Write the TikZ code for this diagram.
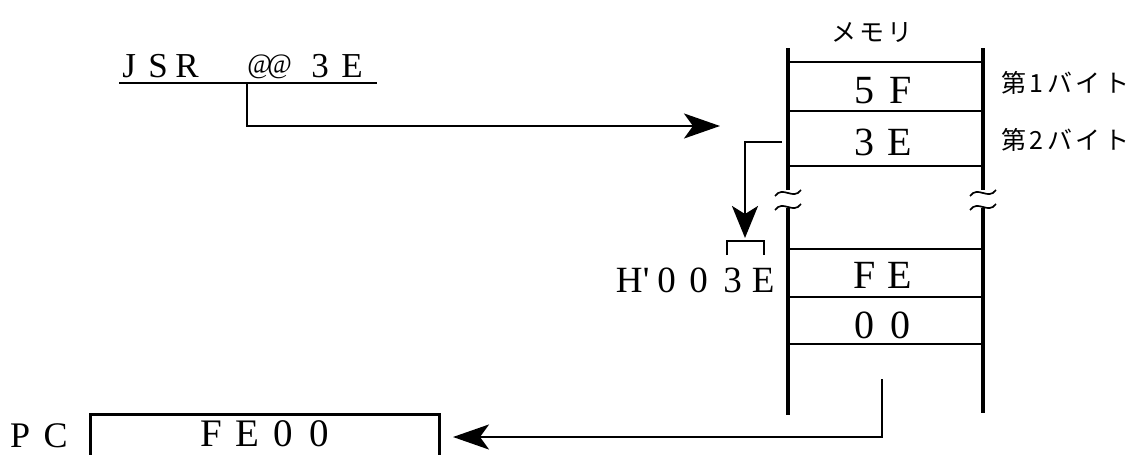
\documentclass[tikz,border=0pt]{standalone}
\usepackage{fontspec}
\setmainfont{Liberation Serif}
\newfontfamily\jp{Noto Sans CJK JP}
\usetikzlibrary{arrows.meta}
% fixed-width cell holding one character, centred
\newcommand\cell[2]{\makebox[#1pt]{#2}}
% compact at-sign used in the operand
\newcommand\atsign{\raisebox{3pt}{\scalebox{0.76}[0.8]{@}}}
% small break mark drawn across a wall of the memory column
\newcommand\wavemark[2]{\draw[brk] (#1-13,#2+3) .. controls (#1-5,#2-8) and (#1+5,#2+8) .. (#1+13,#2-3);}
\tikzset{
  lbl/.style={inner sep=0pt, anchor=base west, font=\fontsize{37}{37}\selectfont},
  jlbl/.style={inner sep=0pt, font=\jp\fontsize{25}{25}\selectfont},
  wall/.style={line width=3.2pt},
  rule/.style={line width=2.6pt},
  link/.style={line width=2.6pt},
  tip/.style={-{Stealth[length=36pt,width=25pt,inset=9pt]}},
  tipdown/.style={-{Stealth[length=32pt,width=26pt,inset=8pt]}},
  brk/.style={line width=1.7pt},
}
\begin{document}
\begin{tikzpicture}[x=1pt,y=-1pt]
\useasboundingbox (0,0) rectangle (1136,455);
\clip (0,0) rectangle (1136,455);
\fill[white] (0,0) rectangle (1136,455);

% instruction
\node[lbl, font=\fontsize{35}{35}\selectfont] (jsr) at (114.5,77) {\cell{29}{J}\cell{29}{S}\cell{29}{R}\hspace{48pt}\cell{20}{\atsign}\cell{20}{\atsign}\hspace{14.5pt}\cell{32}{3}\cell{32}{E}};
\coordinate (ulL) at (119,83);
\coordinate (ulR) at (377,83);
\coordinate (tap) at (247,83);
\coordinate (memin) at (720,126);
\draw[rule] (ulL) -- (ulR);
\draw[link,tip] (tap) |- (memin);

% memory column
\node[jlbl] (memlbl) at (872,33) {メ\hspace{3pt}モ\hspace{3pt}リ};
\draw[wall] (788,48) -- (788,190) (788,208) -- (788,415);
\draw[wall] (983,48) -- (983,190) (983,208) -- (983,413);
\wavemark{788}{193}
\wavemark{788}{207}
\wavemark{983}{193}
\wavemark{983}{207}
\foreach \y in {62,111,166,249,297,344}
  \draw[rule] (788,\y) -- (983,\y);

\tikzset{memtxt/.style={lbl, font=\fontsize{40}{40}\selectfont}}
\node[memtxt] (m5f) at (846,103) {\cell{36}{5}\cell{36}{F}};
\node[memtxt] (m3e) at (846,155) {\cell{36}{3}\cell{36}{E}};
\node[memtxt] (mfe) at (846,288) {\cell{36}{F}\cell{36}{E}};
\node[memtxt] (m00) at (846,338) {\cell{36}{0}\cell{36}{0}};

\node[jlbl, anchor=west] (byte1) at (1001,83) {第\hspace{3.5pt}1\hspace{3.5pt}バ\hspace{3.5pt}イ\hspace{3.5pt}ト};
\node[jlbl, anchor=west] (byte2) at (1001,140) {第\hspace{3.5pt}2\hspace{3.5pt}バ\hspace{3.5pt}イ\hspace{3.5pt}ト};

% second byte used as an address
\coordinate (from3e) at (782,142);
\coordinate (addr) at (745,238);
\draw[link,tipdown] (from3e) -| (addr);
\draw[rule] (727,255) -- (727,241) -- (764,241) -- (764,255);
\node[lbl] (haddr) at (616,292) {\cell{26}{H}\cell{8}{\textquotesingle}\cell{33}{0}\cell{31}{0}\cell{37}{3}\cell{24}{E}};

% program counter
\node[draw, line width=2.6pt, anchor=north west, minimum width=349pt, minimum height=80pt, inner sep=0pt] (pc) at (89,413) {};
\node[lbl, font=\fontsize{39}{39}\selectfont] (pcval) at (193,446) {\smash{\cell{36}{F}\cell{36}{E}\cell{36}{0}\cell{36}{0}}};
\node[lbl, font=\fontsize{36}{36}\selectfont] (pclbl) at (8,447) {\smash{\cell{24}{P}\hspace{11.5pt}\cell{24}{C}}};
\coordinate (memout) at (882,379);
\coordinate (pcin) at (453,437);
\draw[link,tip] (memout) |- (pcin);
\end{tikzpicture}
\end{document}
